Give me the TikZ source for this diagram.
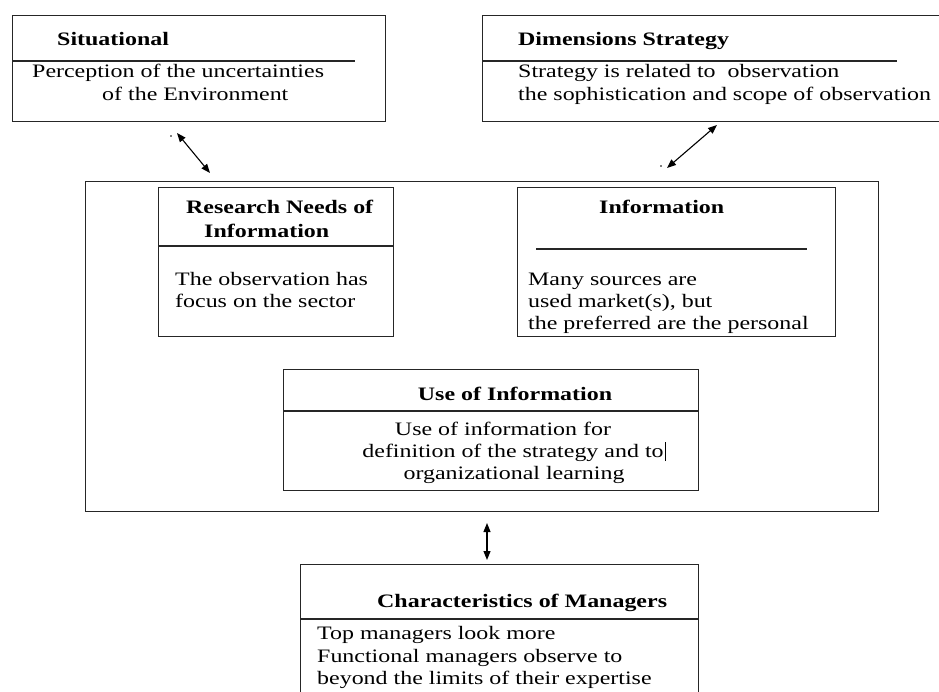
\documentclass[tikz,border=0pt]{standalone}
\usepackage{fontspec}
\setmainfont{Liberation Serif}[FakeStretch=1.26]
\usetikzlibrary{arrows.meta}

\begin{document}
\begin{tikzpicture}[x=1pt,y=-1pt,
  box/.style={draw=black!85,line width=1.3pt,inner sep=0pt,anchor=north west},
  rule/.style={draw=black!85,line width=1.1pt},
  txt/.style={inner sep=0pt,anchor=base west,font=\fontsize{19}{22}\selectfont},
  ttl/.style={inner sep=0pt,anchor=base west,font=\fontsize{19}{22}\selectfont\bfseries},
  link/.style={draw=black,line width=1.1pt,{Triangle[length=9pt,width=7pt]}-{Triangle[length=9pt,width=7pt]}}]

\useasboundingbox (0,0) rectangle (939,691);
\clip (0,0) rectangle (939,691);

% --- outer frame holding the three information boxes
\node[box,minimum width=793pt,minimum height=330pt] (outer) at (85,181) {};

% --- Situational
\node[box,minimum width=373pt,minimum height=106pt] (sit) at (12,15) {};
\draw[rule] (sit.north west) ++(0,46) -- ++(343,0);
\node[ttl] (sitT) at (57,45) {Situational};
\node[txt] (sit1) at (32,77) {Perception of the uncertainties};
\node[txt] (sit2) at (102,100) {of the Environment};

% --- Dimensions Strategy (runs past the right edge)
\node[box,minimum width=478pt,minimum height=106pt] (dim) at (482,15) {};
\draw[rule] (dim.north west) ++(0,46) -- ++(415,0);
\node[ttl] (dimT) at (518,45) {Dimensions Strategy};
\node[txt] (dim1) at (518,77) {Strategy is related to\ \ observation};
\node[txt] (dim2) at (518,100) {the sophistication and scope of observation};

% --- Research Needs of Information
\node[box,minimum width=235pt,minimum height=149pt] (res) at (158,187) {};
\draw[rule] (res.north west) ++(0,59) -- ++(235,0);
\node[ttl] (resT1) at (186,213) {Research Needs of};
\node[ttl] (resT2) at (204,237) {Information};
\node[txt] (res1) at (175,285) {The observation has};
\node[txt] (res2) at (175,307) {focus on the sector};

% --- Information
\node[box,minimum width=318pt,minimum height=149pt] (inf) at (517,187) {};
\draw[rule] (536,249) -- (807,249);
\node[ttl] (infT) at (599,213) {Information};
\node[txt] (inf1) at (528,285) {Many sources are};
\node[txt] (inf2) at (528,307) {used market(s), but};
\node[txt] (inf3) at (528,329) {the preferred are the personal};

% --- Use of Information
\node[box,minimum width=415pt,minimum height=121pt] (use) at (283,369) {};
\draw[rule] (use.north west) ++(0,42) -- ++(415,0);
\node[ttl,anchor=base] (useT) at (515,400) {Use of Information};
\node[txt,anchor=base] (use1) at (503,435) {Use of information for};
\node[txt,anchor=base] (use2) at (513,457) {definition of the strategy and to};
\node[txt,anchor=base] (use3) at (514,479) {organizational learning};
\draw[line width=1pt] ([xshift=1.5pt,yshift=-4pt]use2.base east) -- ++(0,-19);

% --- Characteristics of Managers (runs past the bottom edge)
\node[box,minimum width=398pt,minimum height=160pt] (chr) at (300,564) {};
\draw[rule] (chr.north west) ++(0,55) -- ++(398,0);
\node[ttl] (chrT) at (377,607) {Characteristics of Managers};
\node[txt] (chr1) at (317,639) {Top managers look more};
\node[txt] (chr2) at (317,662) {Functional managers observe to};
\node[txt] (chr3) at (317,684) {beyond the limits of their expertise};

% --- two-way links
\coordinate (a1s) at (177,133);
\coordinate (a1e) at (210,173);
\draw[link] (a1s) -- (a1e);
\fill (171,136) circle (0.8pt);

\coordinate (a2s) at (717,125);
\coordinate (a2e) at (667,168);
\draw[link] (a2s) -- (a2e);
\fill (661,166) circle (0.8pt);

\coordinate (a3s) at (487,523);
\coordinate (a3e) at (487,560);
\draw[link] (a3s) -- (a3e);
\end{tikzpicture}
\end{document}
